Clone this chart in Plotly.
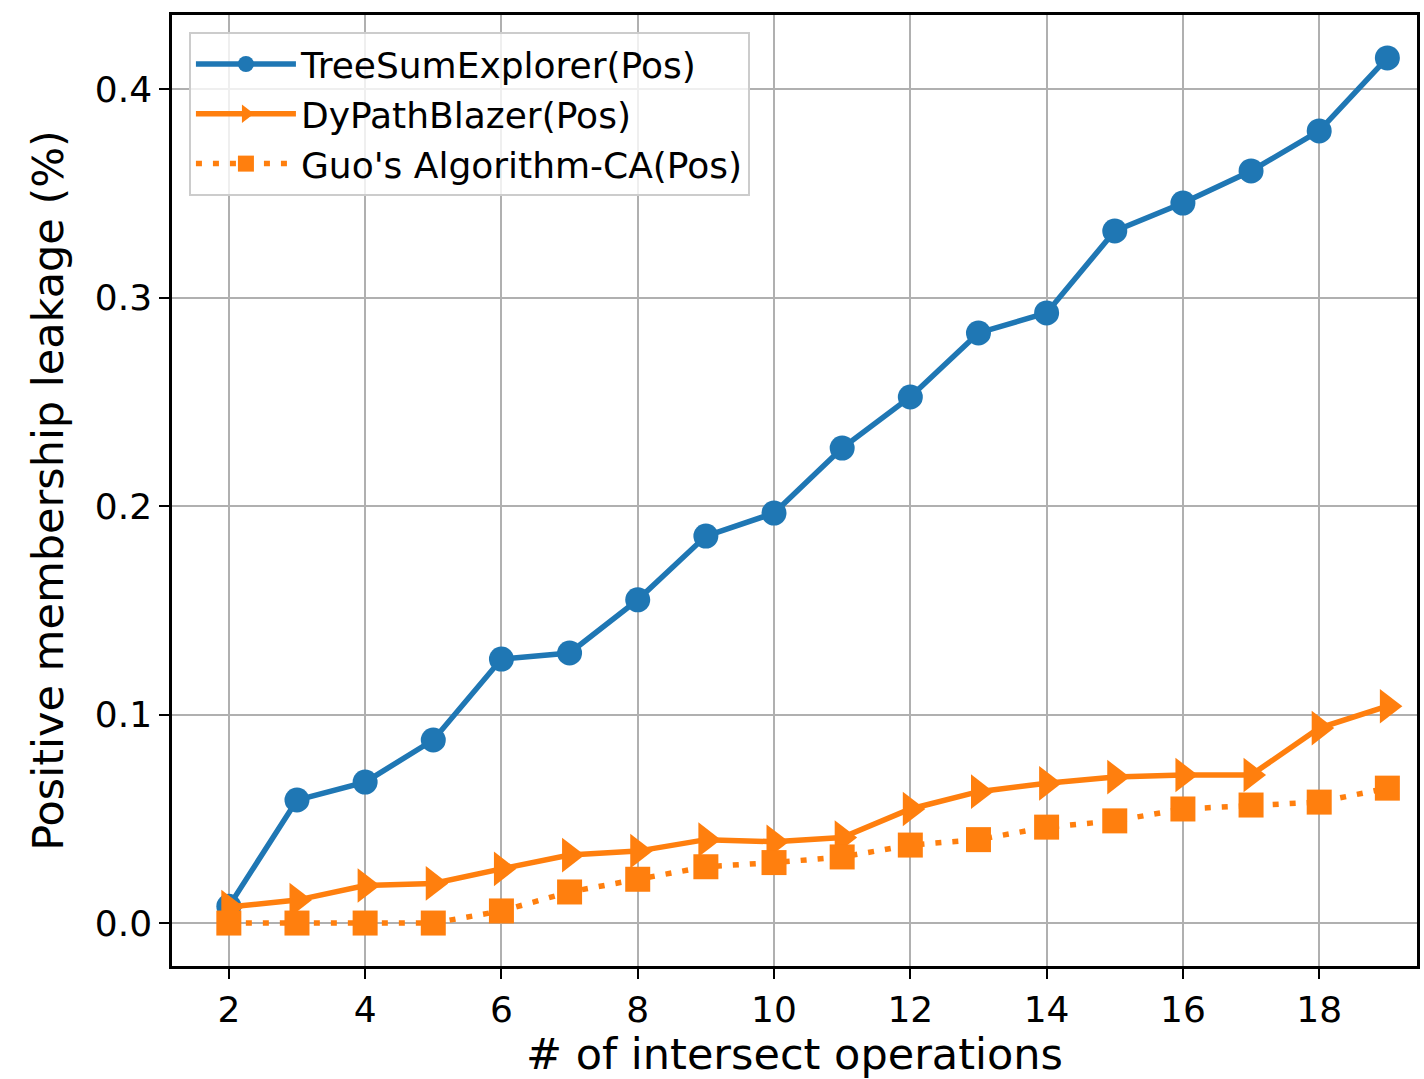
import plotly.graph_objects as go

ops = list(range(2, 20))
tree_sum = [0.008, 0.059, 0.0676, 0.0878, 0.1266, 0.1295, 0.155, 0.1856, 0.1966, 0.2278,
            0.2523, 0.283, 0.2926, 0.3319, 0.3453, 0.3607, 0.3799, 0.4149]
dy_path = [0.0077, 0.011, 0.018, 0.019, 0.026, 0.0326, 0.0345, 0.040, 0.039, 0.041,
           0.0547, 0.063, 0.067, 0.070, 0.071, 0.071, 0.0935, 0.104]
guo_ca = [0.0, 0.0, 0.0, 0.0, 0.0058, 0.0149, 0.021, 0.027, 0.029, 0.0317,
          0.0374, 0.040, 0.046, 0.049, 0.0547, 0.0566, 0.058, 0.0647]

x_ticks = [2, 4, 6, 8, 10, 12, 14, 16, 18]
y_ticks = [0.0, 0.1, 0.2, 0.3, 0.4]
y_tick_text = ["0.0", "0.1", "0.2", "0.3", "0.4"]

BLUE = "#1f77b4"
ORANGE = "#ff7f0e"
FONT = "DejaVu Sans"

fig = go.Figure()
fig.add_trace(go.Scatter(
    x=ops, y=tree_sum, name="TreeSumExplorer(Pos)", mode="lines+markers",
    line=dict(color=BLUE, width=5.5),
    marker=dict(symbol="circle", size=25, color=BLUE)))
fig.add_trace(go.Scatter(
    x=ops, y=dy_path, name="DyPathBlazer(Pos)", mode="lines+markers",
    line=dict(color=ORANGE, width=5.5),
    marker=dict(symbol="triangle-right", size=30, color=ORANGE)))
fig.add_trace(go.Scatter(
    x=ops, y=guo_ca, name="Guo's Algorithm-CA(Pos)", mode="lines+markers",
    line=dict(color=ORANGE, width=5.5, dash="6px,11px"),
    marker=dict(symbol="square", size=25, color=ORANGE)))

fig.update_layout(
    width=1424, height=1079,
    margin=dict(l=172, r=4, t=15, b=113),
    paper_bgcolor="white", plot_bgcolor="white",
    font=dict(family=FONT, size=36, color="black"),
    showlegend=True,
    legend=dict(x=0.0136, y=0.982, xanchor="left", yanchor="top",
                bgcolor="rgba(255,255,255,0.8)", bordercolor="#cccccc", borderwidth=2,
                font=dict(family=FONT, size=36), itemwidth=100),
    xaxis=dict(range=[1.166, 19.435], tickvals=x_ticks, ticks="outside", ticklen=10,
               tickwidth=2, tickcolor="black", showline=True, linecolor="black",
               linewidth=2.5, mirror=True, showgrid=True, gridcolor="#b0b0b0",
               gridwidth=2, zeroline=False,
               title=dict(text="# of intersect operations", standoff=10,
                          font=dict(size=43)),
               tickfont=dict(size=36)),
    yaxis=dict(range=[-0.0206, 0.4355], tickvals=y_ticks, ticktext=y_tick_text,
               ticks="outside", ticklen=10, tickwidth=2, tickcolor="black",
               showline=True, linecolor="black", linewidth=2.5, mirror=True,
               showgrid=True, gridcolor="#b0b0b0", gridwidth=2, zeroline=False,
               title=dict(text="Positive membership leakage (%)", standoff=18,
                          font=dict(size=43)),
               tickfont=dict(size=36)),
)

fig.write_html("out.html")
